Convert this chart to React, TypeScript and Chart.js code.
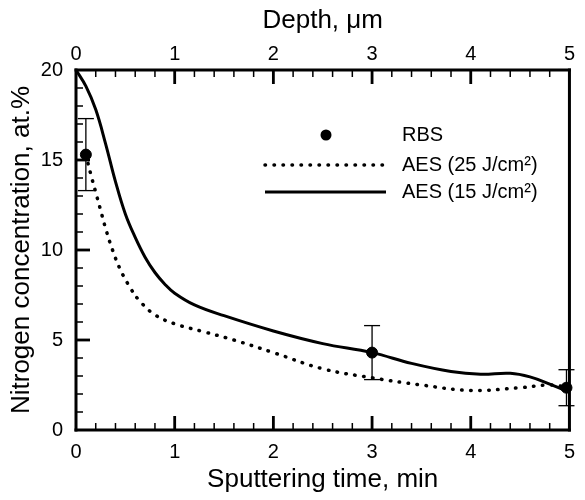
import React, { useEffect, useRef } from 'react';
import { Chart, registerables } from 'chart.js';

Chart.register(...registerables);

// Tick values
const timeTicks = [0, 1, 2, 3, 4, 5];
const depthTicks = [0, 1, 2, 3, 4, 5];
const concTicks = [0, 5, 10, 15, 20];

// AES (15 J/cm²) – solid line
const aes15Time = [0, 0.1, 0.2, 0.3, 0.4, 0.5, 0.6, 0.7, 0.8, 0.9, 1.0, 1.2, 1.5, 2.0, 2.5, 3.0, 3.4, 3.8, 4.1, 4.4, 4.6, 4.8, 5.0];
const aes15Conc = [20, 19.1, 17.8, 15.9, 13.8, 12.0, 10.7, 9.6, 8.75, 8.1, 7.6, 6.95, 6.35, 5.5, 4.8, 4.3, 3.7, 3.25, 3.1, 3.15, 2.95, 2.55, 2.1];

// AES (25 J/cm²) – dotted line
const aes25Time = [0.1, 0.15, 0.2, 0.25, 0.3, 0.37, 0.45, 0.55, 0.64, 0.8, 1.0, 1.3, 1.6, 2.0, 2.5, 3.0, 3.5, 4.0, 4.5, 4.8, 5.0];
const aes25Conc = [15.3, 14.2, 13.2, 12.2, 11.2, 10.0, 8.9, 7.9, 7.2, 6.4, 5.9, 5.45, 5.0, 4.3, 3.4, 2.9, 2.5, 2.2, 2.35, 2.5, 2.35];

// RBS points with error bars
const rbsTime = [0.1, 3.0, 4.97];
const rbsConc = [15.3, 4.3, 2.35];
const rbsErrLow = [13.3, 2.8, 1.35];
const rbsErrHigh = [17.3, 5.8, 3.35];

const legendLabels = ['RBS', 'AES (25 J/cm²)', 'AES (15 J/cm²)'];

const FONT = "'Liberation Sans', Arial, Helvetica, sans-serif";

function seg(ctx: CanvasRenderingContext2D, x1: number, y1: number, x2: number, y2: number, w: number) {
  ctx.fillRect(Math.min(x1, x2) - (x1 === x2 ? w / 2 : 0), Math.min(y1, y2) - (y1 === y2 ? w / 2 : 0), x1 === x2 ? w : Math.abs(x2 - x1), y1 === y2 ? w : Math.abs(y2 - y1));
}

const overlayPlugin = {
  id: 'customOverlay',
  afterDraw(chart: any) {
    const ctx: CanvasRenderingContext2D = chart.ctx;
    const xs = chart.scales.x;
    const ys = chart.scales.y;
    const L = xs.getPixelForValue(0);
    const R = xs.getPixelForValue(5);
    const T = ys.getPixelForValue(20);
    const B = ys.getPixelForValue(0);
    ctx.save();
    ctx.setLineDash([]);
    ctx.globalAlpha = 1;
    ctx.globalCompositeOperation = 'source-over';
    ctx.fillStyle = '#000000';
    // error bars
    const cap = 8;
    for (let i = 0; i < rbsTime.length; i++) {
      const px = xs.getPixelForValue(rbsTime[i]);
      const y1 = ys.getPixelForValue(rbsErrLow[i]);
      const y2 = ys.getPixelForValue(rbsErrHigh[i]);
      seg(ctx, px, y1, px, y2, 1.3);
      seg(ctx, px - cap, y1, px + cap, y1, 1.3);
      seg(ctx, px - cap, y2, px + cap, y2, 1.3);
    }
    // minor ticks
    for (let k = 1; k < 25; k++) {
      if (k % 5 === 0) continue;
      const px = xs.getPixelForValue(k * 0.2);
      seg(ctx, px, B - 7, px, B, 1.5);
      seg(ctx, px, T, px, T + 7, 1.5);
    }
    for (let v = 1; v < 20; v++) {
      if (v % 5 === 0) continue;
      const py = ys.getPixelForValue(v);
      seg(ctx, L, py, L + 7, py, 1.5);
    }
    // major ticks
    for (const v of timeTicks) {
      if (v === 0 || v === 5) continue;
      const px = xs.getPixelForValue(v);
      seg(ctx, px, B - 14, px, B, 2.8);
      seg(ctx, px, T, px, T + 14, 2.8);
    }
    for (const v of concTicks) {
      if (v === 0 || v === 20) continue;
      const py = ys.getPixelForValue(v);
      seg(ctx, L, py, L + 14, py, 2.8);
    }
    // frame
    ctx.fillRect(L - 1.5, T - 1.5, R - L + 3, 3);
    ctx.fillRect(L - 1.5, B - 1.5, R - L + 3, 3);
    ctx.fillRect(L - 1.5, T - 1.5, 3, B - T + 3);
    ctx.fillRect(R - 1.5, T - 1.5, 3, B - T + 3);

    // legend
    const ds = chart.data.datasets;
    const lineX1 = 265;
    const lineX2 = 386;
    const markX = 326;
    const textX = 402;
    const rows = [135, 165, 192];
    ctx.font = `20px ${FONT}`;
    ctx.textBaseline = 'middle';
    ctx.textAlign = 'left';
    ctx.beginPath();
    ctx.arc(markX, rows[0], 5.5, 0, Math.PI * 2);
    ctx.fill();
    ctx.fillText(legendLabels[0], textX, rows[0]);
    ctx.strokeStyle = '#000000';
    ctx.lineCap = 'round';
    ctx.lineWidth = ds[0].borderWidth;
    ctx.setLineDash(ds[0].borderDash);
    ctx.beginPath();
    ctx.moveTo(lineX1, rows[1]);
    ctx.lineTo(lineX2, rows[1]);
    ctx.stroke();
    ctx.fillText(legendLabels[1], textX, rows[1]);
    ctx.setLineDash([]);
    ctx.lineCap = 'butt';
    ctx.lineWidth = ds[1].borderWidth;
    ctx.beginPath();
    ctx.moveTo(lineX1, rows[2]);
    ctx.lineTo(lineX2, rows[2]);
    ctx.stroke();
    ctx.fillText(legendLabels[2], textX, rows[2]);
    ctx.restore();
  },
};

export default function App() {
  const ref = useRef<HTMLCanvasElement | null>(null);

  useEffect(() => {
    document.body.style.margin = '0';
    const canvas = ref.current;
    if (!canvas) return;
    const chart = new Chart(canvas, {
      type: 'scatter',
      data: {
        datasets: [
          {
            label: legendLabels[1],
            data: aes25Time.map((x, i) => ({ x, y: aes25Conc[i] })),
            showLine: true,
            borderColor: '#000',
            backgroundColor: '#000',
            borderWidth: 3.5,
            borderDash: [0.5, 8.5],
            borderCapStyle: 'round',
            pointRadius: 0,
            tension: 0.4,
          },
          {
            label: legendLabels[2],
            data: aes15Time.map((x, i) => ({ x, y: aes15Conc[i] })),
            showLine: true,
            borderColor: '#000',
            backgroundColor: '#000',
            borderWidth: 3,
            pointRadius: 0,
            tension: 0.4,
          },
          {
            label: legendLabels[0],
            data: rbsTime.map((x, i) => ({ x, y: rbsConc[i] })),
            showLine: false,
            pointRadius: 5.5,
            pointBackgroundColor: '#000',
            pointBorderColor: '#000',
            clip: 10,
          },
        ] as any,
      },
      options: {
        responsive: false,
        animation: false,
        devicePixelRatio: 1,
        layout: { padding: { left: 0, right: 8, top: 0, bottom: 0 } },
        plugins: { legend: { display: false }, tooltip: { enabled: false } },
        scales: {
          x: {
            type: 'linear',
            position: 'bottom',
            min: 0,
            max: 5,
            afterBuildTicks: (s: any) => { s.ticks = timeTicks.map((v) => ({ value: v })); },
            afterFit: (s: any) => { s.height = 70; },
            grid: { display: false, tickLength: 0 },
            border: { color: '#000' },
            ticks: { color: '#000', padding: 10, font: { family: FONT, size: 20 }, maxRotation: 0 },
            title: { display: true, text: 'Sputtering time, min', color: '#000', font: { family: FONT, size: 26 }, padding: { top: 0, bottom: 5 } },
          },
          x2: {
            type: 'linear',
            axis: 'x',
            position: 'top',
            min: 0,
            max: 5,
            afterBuildTicks: (s: any) => { s.ticks = depthTicks.map((v) => ({ value: v })); },
            afterFit: (s: any) => { s.height = 70; },
            grid: { display: false, tickLength: 0 },
            border: { color: '#000' },
            ticks: { color: '#000', padding: 4, font: { family: FONT, size: 20 }, maxRotation: 0 },
            title: { display: true, text: 'Depth, μm', color: '#000', font: { family: FONT, size: 26 }, padding: { top: 5, bottom: 0 } },
          },
          y: {
            type: 'linear',
            position: 'left',
            min: 0,
            max: 20,
            afterBuildTicks: (s: any) => { s.ticks = concTicks.map((v) => ({ value: v })); },
            afterFit: (s: any) => { s.width = 76; },
            grid: { display: false, tickLength: 0 },
            border: { color: '#000' },
            ticks: { color: '#000', padding: 13, font: { family: FONT, size: 20 } },
            title: { display: true, text: 'Nitrogen concentration, at.%', color: '#000', font: { family: FONT, size: 26 }, padding: { top: 6, bottom: 0 } },
          },
        },
      } as any,
      plugins: [overlayPlugin],
    });
    return () => chart.destroy();
  }, []);

  return (
    <div style={{ width: 585, height: 500 }}>
      <canvas ref={ref} width={585} height={500} style={{ display: 'block' }} />
    </div>
  );
}
